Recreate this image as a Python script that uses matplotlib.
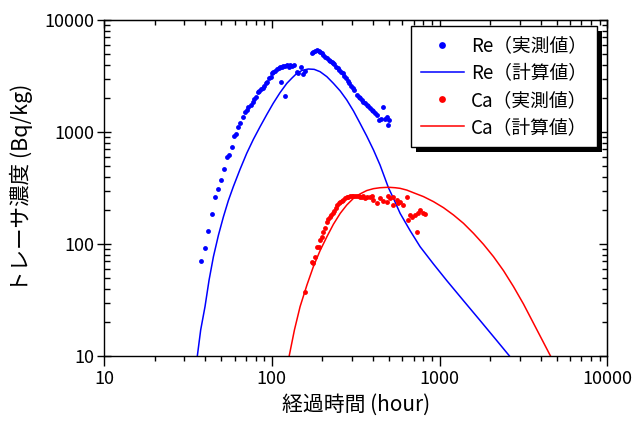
import numpy as np
import matplotlib
matplotlib.use('Agg')
import matplotlib.pyplot as plt
from matplotlib.patches import Rectangle
from matplotlib.ticker import FixedLocator, NullFormatter

plt.rcParams['font.family'] = ['Noto Sans CJK JP', 'DejaVu Sans']

# Re measured (hour, Bq/kg)
re_obs_t = [37.9, 40.0, 41.9, 44.1, 46.1, 48.1, 50.1, 51.7, 53.9, 55.9, 58.0, 59.9, 61.2,
            63.2, 65.0, 67.1, 69.3, 70.9, 72.6, 74.9, 77.0, 78.4, 80.6, 82.5, 84.4, 86.4,
            88.3, 90.4, 92.5, 94.2, 96.4, 98.6, 101, 102, 105, 107, 110, 112, 115, 117,
            120, 123, 126, 129, 132, 135, 141, 144, 149, 153, 157, 114, 120,
            173, 177, 181, 185, 190, 194, 199, 203, 208, 213, 218, 223, 228, 233, 236,
            242, 247, 253, 259, 265, 271, 277, 284, 290, 297, 304, 311, 321, 329, 336,
            344, 352, 360, 368, 377, 386, 395, 404, 413, 423, 434, 449, 463, 474, 485,
            491, 503]
re_obs_c = [70.5, 91.5, 131, 185, 263, 310, 370, 467, 594, 623, 740, 921, 960,
            1101, 1195, 1371, 1519, 1572, 1684, 1742, 1866, 1957, 2068, 2292, 2339, 2404,
            2488, 2575, 2720, 2814, 3015, 3119, 3340, 3457, 3528, 3626, 3702, 3831, 3831, 3884,
            3911, 3964, 3831, 3964, 3911, 3964, 3457, 3387, 3831, 3272, 3528, 2814, 2096,
            5039, 5215, 5323, 5397, 5323, 5215, 5039, 4869, 4706, 4548, 4395, 4335, 4246, 4159, 4020,
            3831, 3702, 3577, 3457, 3340, 3162, 3015, 2873, 2720, 2575, 2454, 2371, 2140, 2068, 1998,
            1931, 1866, 1803, 1742, 1707, 1627, 1572, 1540, 1468, 1418, 1280, 1297, 1684, 1297, 1352,
            1155, 1280]

# Re calculated
re_calc_t = [36.0, 37.7, 40.0, 42.3, 44.9, 48.1, 51.5, 55.1, 59.0, 64.7, 70.9, 77.7, 85.2,
             93.3, 102, 112, 123, 132, 141, 152, 165, 179, 194, 213, 233, 256, 280, 307,
             336, 368, 404, 442, 496, 531, 582, 668, 766, 920, 1105, 1389, 1747, 2196, 2612]
re_calc_c = [10, 17.1, 27.6, 47.7, 77.1, 120, 175, 244, 325, 464, 645, 860, 1116,
             1428, 1803, 2245, 2720, 3034, 3340, 3553, 3651, 3626, 3457, 3119, 2720, 2323, 1931, 1540,
             1195, 921, 691, 507, 318, 256, 188, 131.5, 94.6, 66.3, 47.1, 31.2, 20.7, 13.7, 10]

# Ca measured
ca_obs_t = [157, 173, 177, 181, 185, 190, 194, 199, 203, 208, 213, 216, 221, 226, 231, 236,
            242, 246, 251, 256, 261, 267, 274, 280, 286, 293, 300, 307, 314, 321, 329, 336,
            344, 352, 360, 368, 386, 395, 404, 423, 442, 463, 485, 496, 507, 531, 556, 569,
            582, 609, 531, 638, 668, 653, 683, 715, 749, 766, 802, 732, 821]
ca_obs_c = [37.5, 69.6, 68.1, 76.0, 94.7, 93.4, 109, 116, 129, 138, 158, 166, 175, 182, 190, 198,
            208, 223, 231, 239, 242, 247, 256, 261, 265, 268, 270, 270, 268, 268, 270, 261,
            265, 268, 256, 261, 265, 268, 247, 231, 256, 244, 239, 268, 256, 265, 247, 231,
            239, 223, 223, 265, 182, 164, 175, 182, 188, 201, 188, 129, 185]

# Ca calculated
ca_calc_t = [127, 136.5, 147.5, 162, 177, 194, 213, 233, 256, 280, 307, 336, 368, 404, 442,
             496, 544, 582, 638, 699, 802, 920, 1056, 1211, 1389, 1594, 1828, 2097, 2406,
             2761, 3166, 3632, 4072, 4586]
ca_calc_c = [10, 17.1, 27.6, 43.0, 62.8, 87.2, 116, 150, 188, 223, 256, 280, 300, 312, 318,
             321, 318, 314, 303, 287, 265, 239, 211, 181.6, 153, 124.5, 99.3, 77.1, 57.8,
             41.6, 29.1, 19.6, 14.1, 10]

decades = [10, 100, 1000, 10000]
minor_pos = [m * d for d in decades[:-1] for m in range(2, 10)]

BLUE = '#0000ff'
RED = '#ff0000'

fig = plt.figure(figsize=(6.32, 4.23), dpi=100)
ax = fig.add_axes([104 / 632, 1 - 356 / 423, 503.3 / 632, 336 / 423])

ax.plot(re_obs_t, re_obs_c, 'o', color=BLUE, ms=3.5, mec='none', label='Re（実測値）')
ax.plot(re_calc_t, re_calc_c, '-', color=BLUE, lw=1.1, label='Re（計算値）')
ax.plot(ca_obs_t, ca_obs_c, 'o', color=RED, ms=3.5, mec='none', label='Ca（実測値）')
ax.plot(ca_calc_t, ca_calc_c, '-', color=RED, lw=1.1, label='Ca（計算値）')

ax.set_xscale('log')
ax.set_yscale('log')
ax.set_xlim(10, 10000)
ax.set_ylim(10, 10000)


def set_ticks(axis, labels=True):
    axis.set_major_locator(FixedLocator(decades))
    axis.set_minor_locator(FixedLocator(minor_pos))
    axis.set_minor_formatter(NullFormatter())
    if labels:
        axis.set_ticklabels([str(d) for d in decades])


set_ticks(ax.xaxis)
set_ticks(ax.yaxis)

for s in ax.spines.values():
    s.set_linewidth(1.0)

ax.tick_params(axis='x', which='major', direction='out', length=7, width=1, labelsize=13, pad=3)
ax.tick_params(axis='x', which='minor', direction='out', length=3.5, width=1)
ax.tick_params(axis='y', which='major', direction='inout', length=10, width=1, labelsize=13, pad=2)
ax.tick_params(axis='y', which='minor', direction='in', length=4, width=1)

# inward ticks on the top and right frame
ax_top = ax.secondary_xaxis('top')
set_ticks(ax_top.xaxis, labels=False)
ax_top.tick_params(which='major', direction='in', length=6, width=1, labeltop=False)
ax_top.tick_params(which='minor', direction='in', length=3.5, width=1)
ax_right = ax.secondary_yaxis('right')
set_ticks(ax_right.yaxis, labels=False)
ax_right.tick_params(which='major', direction='in', length=6, width=1, labelright=False)
ax_right.tick_params(which='minor', direction='in', length=3.5, width=1)

ax.set_xlabel('経過時間 (hour)', fontsize=15, labelpad=4)
ax.set_ylabel('トレーサ濃度 (Bq/kg)', fontsize=15.5, labelpad=8)

leg = ax.legend(loc='upper right', bbox_to_anchor=(0.9795, 0.982), borderaxespad=0,
                fontsize=13.5, frameon=True, fancybox=False, edgecolor='black',
                facecolor='white', framealpha=1.0,
                handlelength=2.3, handletextpad=0.4, borderpad=0.5, labelspacing=0.33,
                markerscale=1.4)
leg.get_frame().set_linewidth(1.0)
leg.set_zorder(5)

# black drop shadow behind the legend
fig.canvas.draw()
bb = leg.get_window_extent()
shadow = Rectangle((bb.x0 + 5, bb.y0 - 5), bb.width, bb.height, transform=None,
                   facecolor='black', edgecolor='none', zorder=4)
ax.add_artist(shadow)

fig.savefig('out.png', dpi=100)
